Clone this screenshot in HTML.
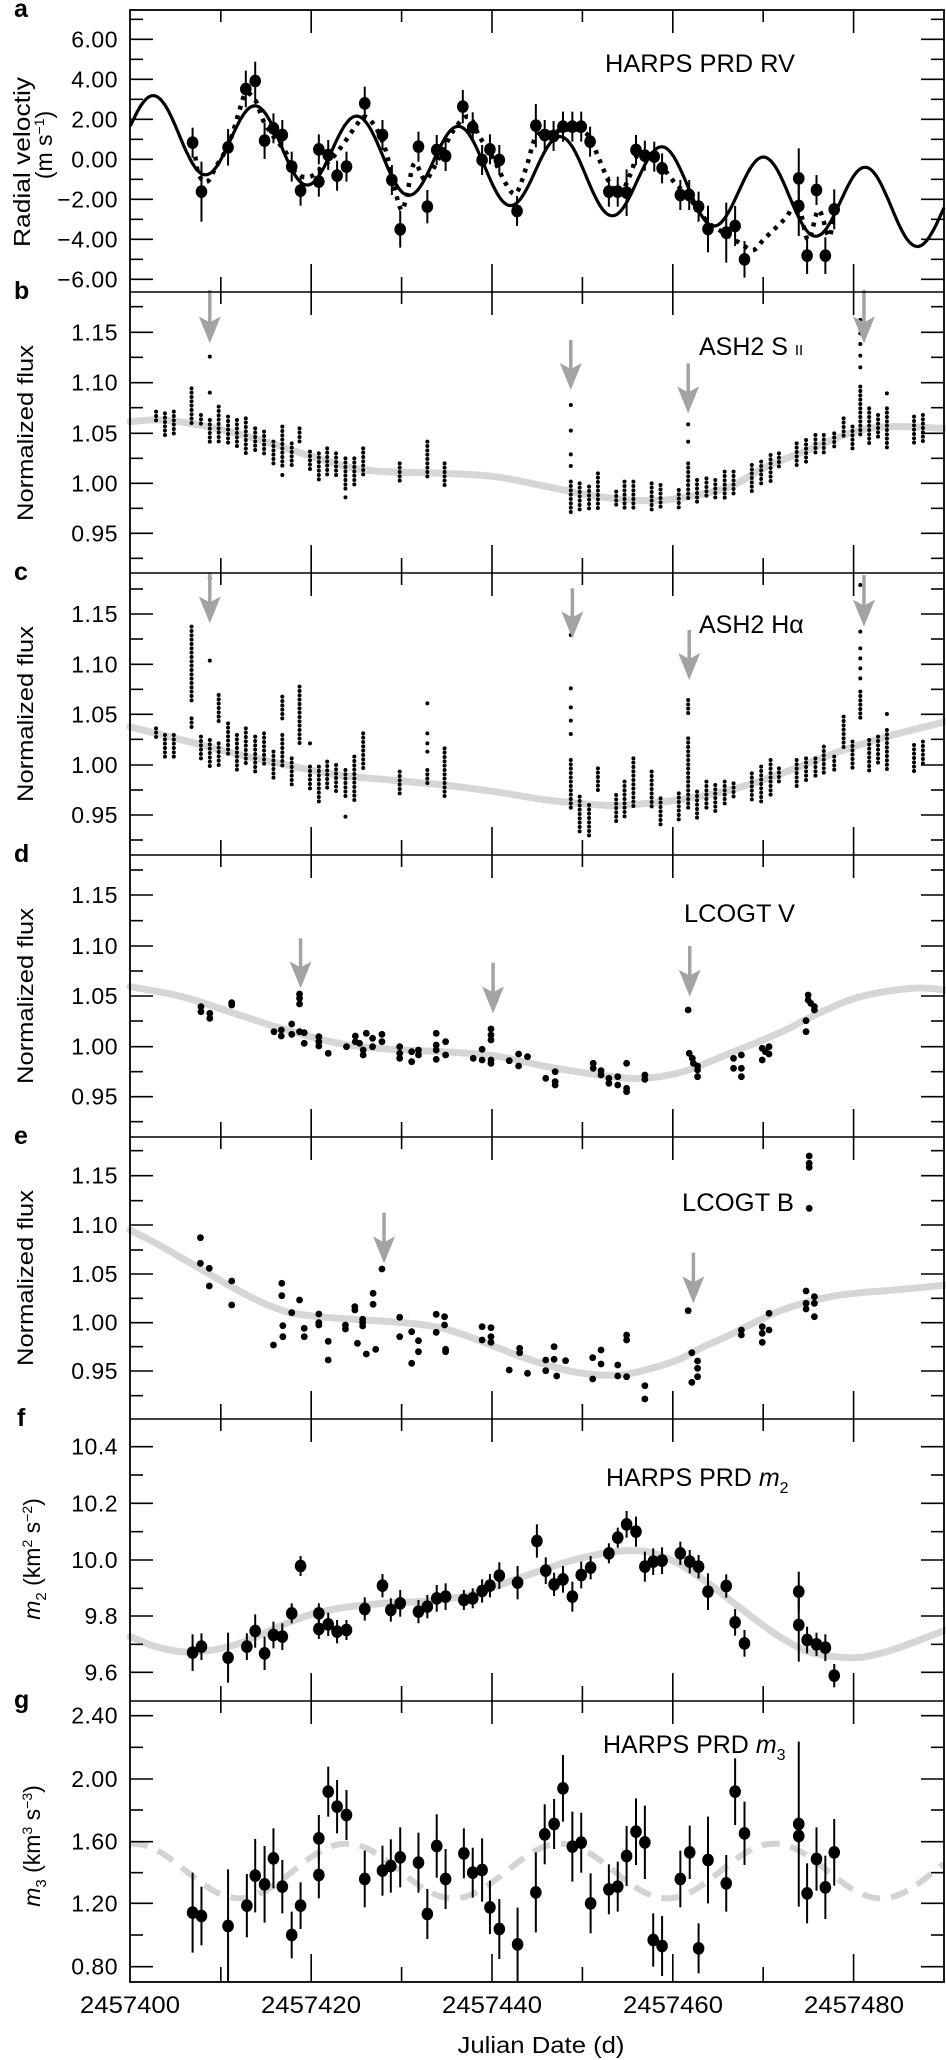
<!DOCTYPE html>
<html><head><meta charset="utf-8">
<style>html,body{margin:0;padding:0;background:#fff;}svg{display:block;}</style>
</head><body>
<svg id="s" width="946" height="2060" viewBox="0 0 946 2060" xmlns="http://www.w3.org/2000/svg" font-family="'Liberation Sans', Arial, sans-serif">
<rect x="0" y="0" width="946" height="2060" fill="#fff"/>
<text x="14" y="17" font-size="25" font-weight="bold">a</text>
<text x="14" y="299" font-size="25" font-weight="bold">b</text>
<text x="14" y="580" font-size="25" font-weight="bold">c</text>
<text x="14" y="862" font-size="25" font-weight="bold">d</text>
<text x="14" y="1144" font-size="25" font-weight="bold">e</text>
<text x="17" y="1426" font-size="25" font-weight="bold">f</text>
<text x="14" y="1708" font-size="25" font-weight="bold">g</text>

<text transform="translate(30,162) rotate(-90)" font-size="23" text-anchor="middle" textLength="170" lengthAdjust="spacingAndGlyphs">Radial veloctiy</text>
<text transform="translate(52,145) rotate(-90)" font-size="23" text-anchor="middle">(m s<tspan dy="-8" font-size="14">−1</tspan><tspan dy="8">)</tspan></text>
<text transform="translate(33,433) rotate(-90)" font-size="22" text-anchor="middle" textLength="176" lengthAdjust="spacingAndGlyphs">Normalized flux</text>
<text transform="translate(33,714) rotate(-90)" font-size="22" text-anchor="middle" textLength="176" lengthAdjust="spacingAndGlyphs">Normalized flux</text>
<text transform="translate(33,996) rotate(-90)" font-size="22" text-anchor="middle" textLength="176" lengthAdjust="spacingAndGlyphs">Normalized flux</text>
<text transform="translate(33,1278) rotate(-90)" font-size="22" text-anchor="middle" textLength="176" lengthAdjust="spacingAndGlyphs">Normalized flux</text>
<text transform="translate(40,1559) rotate(-90)" font-size="23" text-anchor="middle"><tspan font-style="italic">m</tspan><tspan font-size="15" dy="6">2</tspan><tspan dy="-6">  (km</tspan><tspan font-size="14" dy="-8">2</tspan><tspan dy="8"> s</tspan><tspan font-size="14" dy="-8">−2</tspan><tspan dy="8">)</tspan></text>
<text transform="translate(40,1846) rotate(-90)" font-size="23" text-anchor="middle"><tspan font-style="italic">m</tspan><tspan font-size="15" dy="6">3</tspan><tspan dy="-6">  (km</tspan><tspan font-size="14" dy="-8">3</tspan><tspan dy="8"> s</tspan><tspan font-size="14" dy="-8">−3</tspan><tspan dy="8">)</tspan></text>

<text x="605" y="72" font-size="25" textLength="190" lengthAdjust="spacingAndGlyphs">HARPS PRD RV</text>
<text x="699" y="355" font-size="25">ASH2 S <tspan font-size="15">II</tspan></text>
<text x="699" y="633" font-size="25">ASH2 Hα</text>
<text x="684" y="922" font-size="25" textLength="111" lengthAdjust="spacingAndGlyphs">LCOGT V</text>
<text x="682" y="1211" font-size="25" textLength="112" lengthAdjust="spacingAndGlyphs">LCOGT B</text>
<text x="606" y="1486" font-size="25">HARPS PRD <tspan font-style="italic">m</tspan><tspan font-size="16" dy="7">2</tspan></text>
<text x="603" y="1753" font-size="25">HARPS PRD <tspan font-style="italic">m</tspan><tspan font-size="16" dy="7">3</tspan></text>

<text x="130" y="2013" font-size="24" text-anchor="middle" textLength="100" lengthAdjust="spacingAndGlyphs">2457400</text>
<text x="311" y="2013" font-size="24" text-anchor="middle" textLength="100" lengthAdjust="spacingAndGlyphs">2457420</text>
<text x="492" y="2013" font-size="24" text-anchor="middle" textLength="100" lengthAdjust="spacingAndGlyphs">2457440</text>
<text x="673" y="2013" font-size="24" text-anchor="middle" textLength="100" lengthAdjust="spacingAndGlyphs">2457460</text>
<text x="854" y="2013" font-size="24" text-anchor="middle" textLength="100" lengthAdjust="spacingAndGlyphs">2457480</text>
<text x="541" y="2053" font-size="23" text-anchor="middle" textLength="167" lengthAdjust="spacingAndGlyphs">Julian Date (d)</text>
</svg>
<script>
(function(){
const S=document.getElementById('s');
const NS='http://www.w3.org/2000/svg';
function el(t,a,txt){const e=document.createElementNS(NS,t);for(const k in a)e.setAttribute(k,a[k]);if(txt!=null)e.textContent=txt;S.appendChild(e);return e;}
const X=x=>130+x/1.917;
const offs=[10,290,570,850,1130,1410,1690];
const tops=[10,292,573,855,1137,1419,1701,1982];
function Yf(i){return y=>offs[i]+y/3;}
function smooth(pts){
  let d='M'+pts[0][0].toFixed(1)+','+pts[0][1].toFixed(1);
  for(let i=0;i<pts.length-1;i++){
    const p0=pts[i-1]||pts[i],p1=pts[i],p2=pts[i+1],p3=pts[i+2]||p2;
    const c1=[p1[0]+(p2[0]-p0[0])/6,p1[1]+(p2[1]-p0[1])/6];
    const c2=[p2[0]-(p3[0]-p1[0])/6,p2[1]-(p3[1]-p1[1])/6];
    d+='C'+c1[0].toFixed(1)+','+c1[1].toFixed(1)+' '+c2[0].toFixed(1)+','+c2[1].toFixed(1)+' '+p2[0].toFixed(1)+','+p2[1].toFixed(1);
  }
  return d;
}
function conv(i,pts){const Y=Yf(i);return pts.map(p=>[X(p[0]),Y(p[1])]);}
function grayCurve(i,pts){el('path',{d:smooth(conv(i,pts)),fill:'none',stroke:'#d6d6d6','stroke-width':7,'stroke-linecap':'round'});}
function arrow(i,x,y1,y2){const Y=Yf(i);const cx=X(x),a=Y(y1),b=Y(y2);
  el('line',{x1:cx,y1:a,x2:cx,y2:b-20,stroke:'#a3a3a3','stroke-width':3.5});
  el('path',{d:`M${cx-11},${b-27} L${cx},${b-21} L${cx+11},${b-27} L${cx},${b} Z`,fill:'#a3a3a3'});}
function dots(i,cols,r,step){const Y=Yf(i);
  cols.forEach(c=>{ if(c.length==2){el('circle',{cx:X(c[0]),cy:Y(c[1]),r:r});}
    else{for(let y=c[1];y<=c[2]+0.1;y+=step){el('circle',{cx:X(c[0]),cy:Y(y),r:r});}}});}
function pts(i,arr,r){const Y=Yf(i);arr.forEach(p=>{el('circle',{cx:X(p[0]),cy:Y(p[1]),r:r});});}
function errpts(i,arr,r,def){const Y=Yf(i);arr.forEach(p=>{const e=p[2]!=null?p[2]:def;const cx=X(p[0]);
  if(e>0)el('line',{x1:cx,x2:cx,y1:Y(p[1]-e),y2:Y(p[1]+e),stroke:'#000','stroke-width':2});
  el('ellipse',{cx:cx,cy:Y(p[1]),rx:r,ry:r*1.1});});}

(function(){
  const f=d=>1.45-0.0455*d+1.85*Math.cos(2*Math.PI*(d-2.6)/11.25);
  let d='';for(let k=0;k<=900;k++){const day=k*0.1;const x=130.4+9.04*day;if(x>944)break;const y=39.3+(6-f(day))*20;d+=(k?'L':'M')+x.toFixed(1)+','+y.toFixed(1);}
  el('path',{d:d,fill:'none',stroke:'#000','stroke-width':3.2});
  const dotted=[[125,440],[132,495],[148,515],[165,470],[190,400],[210,300],[222,250],[240,270],[255,330],[275,380],[300,430],[318,490],[345,500],[370,470],[390,440],[410,400],[432,350],[450,320],[470,350],[490,420],[505,520],[520,600],[530,560],[545,460],[565,510],[580,480],[600,420],[625,350],[650,320],[670,380],[695,440],[720,520],[740,550],[760,470],[778,380],[800,370],[830,360],[860,360],[880,380],[900,450],[920,520],[940,550],[960,490],[975,430],[1000,440],[1020,470],[1045,520],[1065,550],[1090,600],[1110,640],[1140,670],[1170,700],[1195,720],[1215,688],[1237,655],[1258,622],[1280,580],[1300,690],[1320,600],[1340,680],[1350,600]];
  el('path',{d:smooth(conv(0,dotted)),fill:'none',stroke:'#000','stroke-width':4.5,'stroke-dasharray':'4 6'});
  errpts(0,[[120,398],[137,545,90],[188,412,55],[222,237,55],[240,213,58],[258,392,55],[275,355],[292,375],[310,470],[327,542],[362,418],[362,515],[380,435],[397,497],[415,470],[450,280,50],[484,375],[502,510],[518,658,55],[553,410],[570,590,50],[588,420],[605,438],[638,290,50],[657,352],[675,450],[690,418],[708,450],[742,603,45],[778,347,65],[795,375],[812,378],[830,350],[848,350],[865,350],[882,395],[918,545],[935,545],[952,548,70],[970,420],[987,437],[1005,440],[1020,475],[1055,555],[1072,555],[1090,590],[1108,657,70],[1143,668,90],[1160,648,60],[1178,748,55],[1282,505,90],[1282,588,90],[1298,737,55],[1316,540],[1333,737,55],[1350,598,60]],5.8,45);
})();

grayCurve(1,[[0,395],[60,390],[150,410],[250,450],[350,500],[450,540],[600,550],[700,560],[800,590],[900,620],[1000,632],[1070,620],[1150,590],[1220,530],[1300,480],[1380,430],[1450,410],[1564,415]]);
dots(1,[[50,365,400],[67,370,440],[84,365,435],[118,295,405],[136,375,410],[153,200],[153,308],[153,390,465],[170,350,455],[188,380,460],[205,390,475],[222,385,495],[240,415,490],[257,425,495],[275,455,520],[292,410,530],[292,555],[310,460,530],[325,415,460],[345,485,545],[362,490,575],[378,475,565],[395,490,555],[413,505,600],[413,622],[430,505,585],[447,475,555],[517,520,575],[570,455,570],[603,520,590],[845,345],[845,422],[845,493],[845,528],[845,575,675],[862,580,665],[880,590,660],[897,550,655],[932,605,655],[948,575,660],[965,575,665],[1000,580,660],[1017,585,660],[1052,600,660],[1070,403],[1070,455],[1070,520,630],[1087,570,640],[1105,565,625],[1122,570,630],[1140,545,630],[1157,545,610],[1192,525,605],[1210,515,590],[1228,495,580],[1244,490,540],[1278,460,525],[1296,450,525],[1314,435,495],[1330,435,495],[1350,430,480],[1368,385,440],[1385,410,480],[1400,90],[1400,130],[1400,162],[1400,197],[1400,232],[1400,290,440],[1417,355,465],[1434,375,450],[1451,310],[1451,355,475],[1503,380,470],[1520,375,455]],2,13);
arrow(1,153,0,160);arrow(1,845,150,300);arrow(1,1070,220,370);arrow(1,1407,0,160);

grayCurve(2,[[0,470],[100,510],[200,550],[300,585],[400,615],[500,630],[600,645],[700,665],[800,690],[900,705],[950,705],[1050,690],[1150,660],[1250,610],[1350,550],[1450,500],[1564,455]]);
dots(2,[[50,475,505],[67,495,565],[84,495,560],[118,170,400],[118,445,475],[136,500,570],[153,25],[153,132],[153,272],[153,510,595],[170,375,460],[170,520,585],[188,460,560],[205,495,600],[222,475,580],[240,500,610],[257,490,590],[275,545,630],[292,380,450],[292,495,595],[310,565,645],[325,350,520],[345,520],[345,590,665],[362,590,700],[378,575,665],[395,585,665],[413,600,690],[413,740],[430,560,695],[447,490,600],[517,605,680],[570,400],[570,490],[570,520],[570,545],[570,600,650],[603,535,690],[845,195],[845,355],[845,412],[845,452],[845,492],[845,570,715],[862,680,790],[880,705,800],[897,595,665],[932,675,755],[948,635,740],[965,565,715],[1000,605,710],[1017,685,765],[1052,670,755],[1070,290],[1070,390,440],[1070,505,720],[1087,665,750],[1105,635,715],[1122,645,725],[1140,635,700],[1157,640,690],[1192,610,700],[1210,590,700],[1228,570,680],[1244,595,640],[1278,570,650],[1296,565,635],[1314,565,625],[1330,530,620],[1350,560,610],[1368,440,535],[1385,515,600],[1400,45],[1400,122],[1400,185],[1400,235],[1400,265],[1400,295],[1400,325],[1400,365,455],[1417,510,605],[1434,500,590],[1451,432],[1451,480,605],[1503,525,610],[1520,515,590]],2,13);
arrow(2,153,10,160);arrow(2,848,55,205);arrow(2,1072,180,330);arrow(2,1407,15,170);

grayCurve(3,[[0,410],[100,440],[200,490],[300,540],[400,580],[500,598],[600,605],[700,618],[800,650],[900,675],[980,685],[1060,665],[1150,610],[1250,545],[1320,490],[1400,440],[1500,415],[1564,420]]);
pts(3,[[136,470],[136,485],[153,490],[153,505],[195,458],[195,465],[276,545],[290,540],[290,558],[310,522],[310,553],[325,545],[334,548],[334,580],[325,432],[325,462],[325,445],[362,560],[362,575],[362,588],[380,610],[415,590],[432,558],[432,575],[440,580],[447,600],[447,615],[453,550],[465,565],[465,590],[483,553],[483,575],[517,590],[517,610],[517,625],[540,605],[540,635],[553,600],[553,615],[587,550],[587,585],[587,600],[587,628],[605,575],[605,615],[658,625],[675,598],[675,630],[692,537],[692,555],[692,570],[692,630],[692,640],[727,632],[745,612],[745,648],[762,620],[797,685],[815,665],[815,695],[815,705],[888,640],[888,655],[903,662],[903,675],[918,685],[918,700],[935,680],[935,705],[952,640],[952,715],[952,725],[987,675],[987,688],[1070,480],[1072,610],[1078,625],[1080,640],[1088,648],[1088,660],[1088,680],[1157,625],[1157,655],[1172,615],[1172,655],[1172,680],[1212,595],[1212,630],[1218,605],[1225,590],[1225,612],[1296,512],[1296,545],[1300,435],[1300,450],[1305,460],[1312,470],[1312,480]],3.4);
arrow(3,327,265,415);arrow(3,696,338,490);arrow(3,1073,288,440);

grayCurve(4,[[0,300],[50,340],[100,385],[150,430],[200,475],[250,515],[300,545],[350,558],[400,565],[450,570],[500,575],[550,582],[600,595],[650,620],[700,650],[750,680],[800,705],[850,725],[900,735],[950,733],[1000,715],[1050,690],[1100,650],[1150,615],[1200,575],[1250,540],[1300,515],[1350,498],[1400,488],[1450,482],[1500,475],[1564,465]]);
pts(4,[[135,323],[135,400],[152,415],[152,468],[195,453],[195,525],[275,645],[291,460],[291,497],[293,587],[293,620],[310,548],[325,510],[334,595],[334,620],[362,552],[362,578],[362,585],[380,634],[380,690],[413,585],[413,597],[431,530],[431,540],[436,640],[446,568],[446,578],[446,588],[453,672],[466,490],[466,523],[471,658],[483,417],[517,562],[517,620],[540,605],[540,700],[553,632],[553,665],[587,553],[587,607],[603,560],[603,585],[605,658],[605,665],[675,590],[675,630],[692,593],[692,620],[692,637],[727,720],[747,655],[747,668],[762,730],[797,690],[797,722],[813,650],[813,688],[818,738],[835,692],[887,683],[887,747],[903,660],[903,702],[935,705],[935,738],[952,615],[952,630],[952,740],[987,767],[987,807],[1070,542],[1077,668],[1077,757],[1088,693],[1088,715],[1088,740],[1172,600],[1172,615],[1212,590],[1212,637],[1212,610],[1225,550],[1225,600],[1296,483],[1296,520],[1296,537],[1312,500],[1312,520],[1312,560],[1302,78],[1302,100],[1302,112],[1302,235]],3.4);
arrow(4,487,248,400);arrow(4,1080,368,520);

grayCurve(5,[[0,680],[50,710],[100,725],[150,722],[200,705],[250,675],[300,640],[350,612],[400,595],[450,585],[500,578],[550,575],[600,568],[650,555],[700,530],[750,502],[800,475],[850,450],[900,432],[950,422],[1000,428],[1050,460],[1100,510],[1150,570],[1200,630],[1250,685],[1300,725],[1350,740],[1400,742],[1450,725],[1500,698],[1564,660]]);
errpts(5,[[120,728,55],[137,710,40],[188,743,75],[224,710,40],[240,663,50],[258,730,50],[275,675,40],[292,680,40],[310,610,30],[327,468,30],[362,610,30],[362,657,30],[380,643,35],[397,665,35],[415,660,30],[450,597,35],[484,527,35],[500,600,35],[518,580,40],[553,605,35],[570,590,35],[588,565,40],[605,560,40],[640,570,30],[657,565,30],[675,543,35],[690,527,35],[708,497,40],[743,518,50],[780,393,50],[797,482,40],[813,523,35],[830,508,40],[848,560,45],[865,495,40],[883,473,35],[918,430,30],[935,383,30],[952,343,40],[970,365,45],[987,470,45],[1003,455,40],[1020,452,40],[1055,430,35],[1073,455,35],[1090,470,35],[1108,545,55],[1143,528,35],[1160,637,40],[1178,700,40],[1282,545,60],[1282,645,110],[1298,690,40],[1316,703,35],[1333,713,40],[1350,797,35]],5.8,40);

(function(){
  const p=[];for(let x=0;x<=1564;x+=8){p.push([x,543-82*Math.cos(2*Math.PI*(x-5)/410)]);}
  el('path',{d:smooth(conv(6,p)),fill:'none',stroke:'#d3d3d3','stroke-width':6,'stroke-dasharray':'18 11'});
  const Y=Yf(6);
  el('line',{x1:X(1282),x2:X(1282),y1:Y(155),y2:Y(650),stroke:'#000','stroke-width':2});
  errpts(6,[[120,668,120],[137,678,88],[188,708,170],[224,647,95],[240,557,110],[258,583,115],[275,505,90],[292,590,80],[310,735,70],[327,647,70],[362,445,70],[362,555,70],[380,305,75],[397,350,80],[415,375,75],[450,567,85],[484,542,75],[500,528,80],[518,502,90],[553,518,90],[570,672,75],[588,468,95],[605,567,90],[640,490,75],[657,548,75],[675,540,95],[690,652,80],[708,717,90],[743,763,110],[778,607,120],[795,433,90],[813,402,75],[830,295,100],[848,470,105],[865,458,90],[883,640,90],[918,598,75],[935,590,75],[952,498,90],[970,425,100],[987,457,110],[1003,750,80],[1020,768,90],[1055,567,85],[1073,487,80],[1090,775,75],[1108,510,130],[1143,580,85],[1160,305,100],[1178,430,95],[1282,402,0],[1282,438,0],[1298,610,90],[1316,507,95],[1333,592,95],[1350,487,100]],5.8,80);
})();

el('rect',{x:130,y:10,width:814,height:1972,fill:'none',stroke:'#000','stroke-width':1.8});
for(let i=1;i<7;i++)el('line',{x1:130,x2:944,y1:tops[i],y2:tops[i],stroke:'#000','stroke-width':1.6});
for(let i=0;i<7;i++){
  for(let d=10;d<=80;d+=10){const x=130.4+9.04*d;const L=(d%20==0)?23:12;
    el('line',{x1:x,x2:x,y1:tops[i],y2:tops[i]+L,stroke:'#000','stroke-width':1.6});
    el('line',{x1:x,x2:x,y1:tops[i+1],y2:tops[i+1]-(d%20==0?28:15),stroke:'#000','stroke-width':1.6});}
}
const yt=[
 {all:[28,88,148,208,268,328,388,448,508,568,628,688,748,808],maj:{88:'6.00',208:'4.00',328:'2.00',448:'0.00',568:'−2.00',688:'−4.00',808:'−6.00'}},
 {all:[50,127,202,278,353,430,505,580,655,730,805],maj:{127:'1.15',278:'1.10',430:'1.05',580:'1.00',730:'0.95'}},
 {all:[57,132,207,283,358,433,508,585,660,735,810],maj:{132:'1.15',283:'1.10',433:'1.05',585:'1.00',735:'0.95'}},
 {all:[60,135,212,288,363,438,513,590,665,740,815],maj:{135:'1.15',288:'1.10',438:'1.05',590:'1.00',740:'0.95'}},
 {all:[62,137,212,285,360,432,505,578,650,723,797],maj:{137:'1.15',285:'1.10',432:'1.05',578:'1.00',723:'0.95'}},
 {all:[110,195,280,365,450,535,618,703,787],maj:{110:'10.4',280:'10.2',450:'10.0',618:'9.8',787:'9.6'}},
 {all:[77,172,267,360,455,548,640,735,830],maj:{77:'2.40',267:'2.00',455:'1.60',640:'1.20',830:'0.80'}}
];
yt.forEach((t,i)=>{const Y=Yf(i);t.all.forEach(v=>{const y=Y(v);const m=t.maj[v]!=null;const L=m?23:13;
  el('line',{x1:130,x2:130+L,y1:y,y2:y,stroke:'#000','stroke-width':1.6});
  el('line',{x1:944,x2:944-L,y1:y,y2:y,stroke:'#000','stroke-width':1.6});
  if(m)el('text',{x:118,y:y+8,'font-size':23,'text-anchor':'end','letter-spacing':'0.5'},t.maj[v]);});});
})();
</script>
</body></html>
